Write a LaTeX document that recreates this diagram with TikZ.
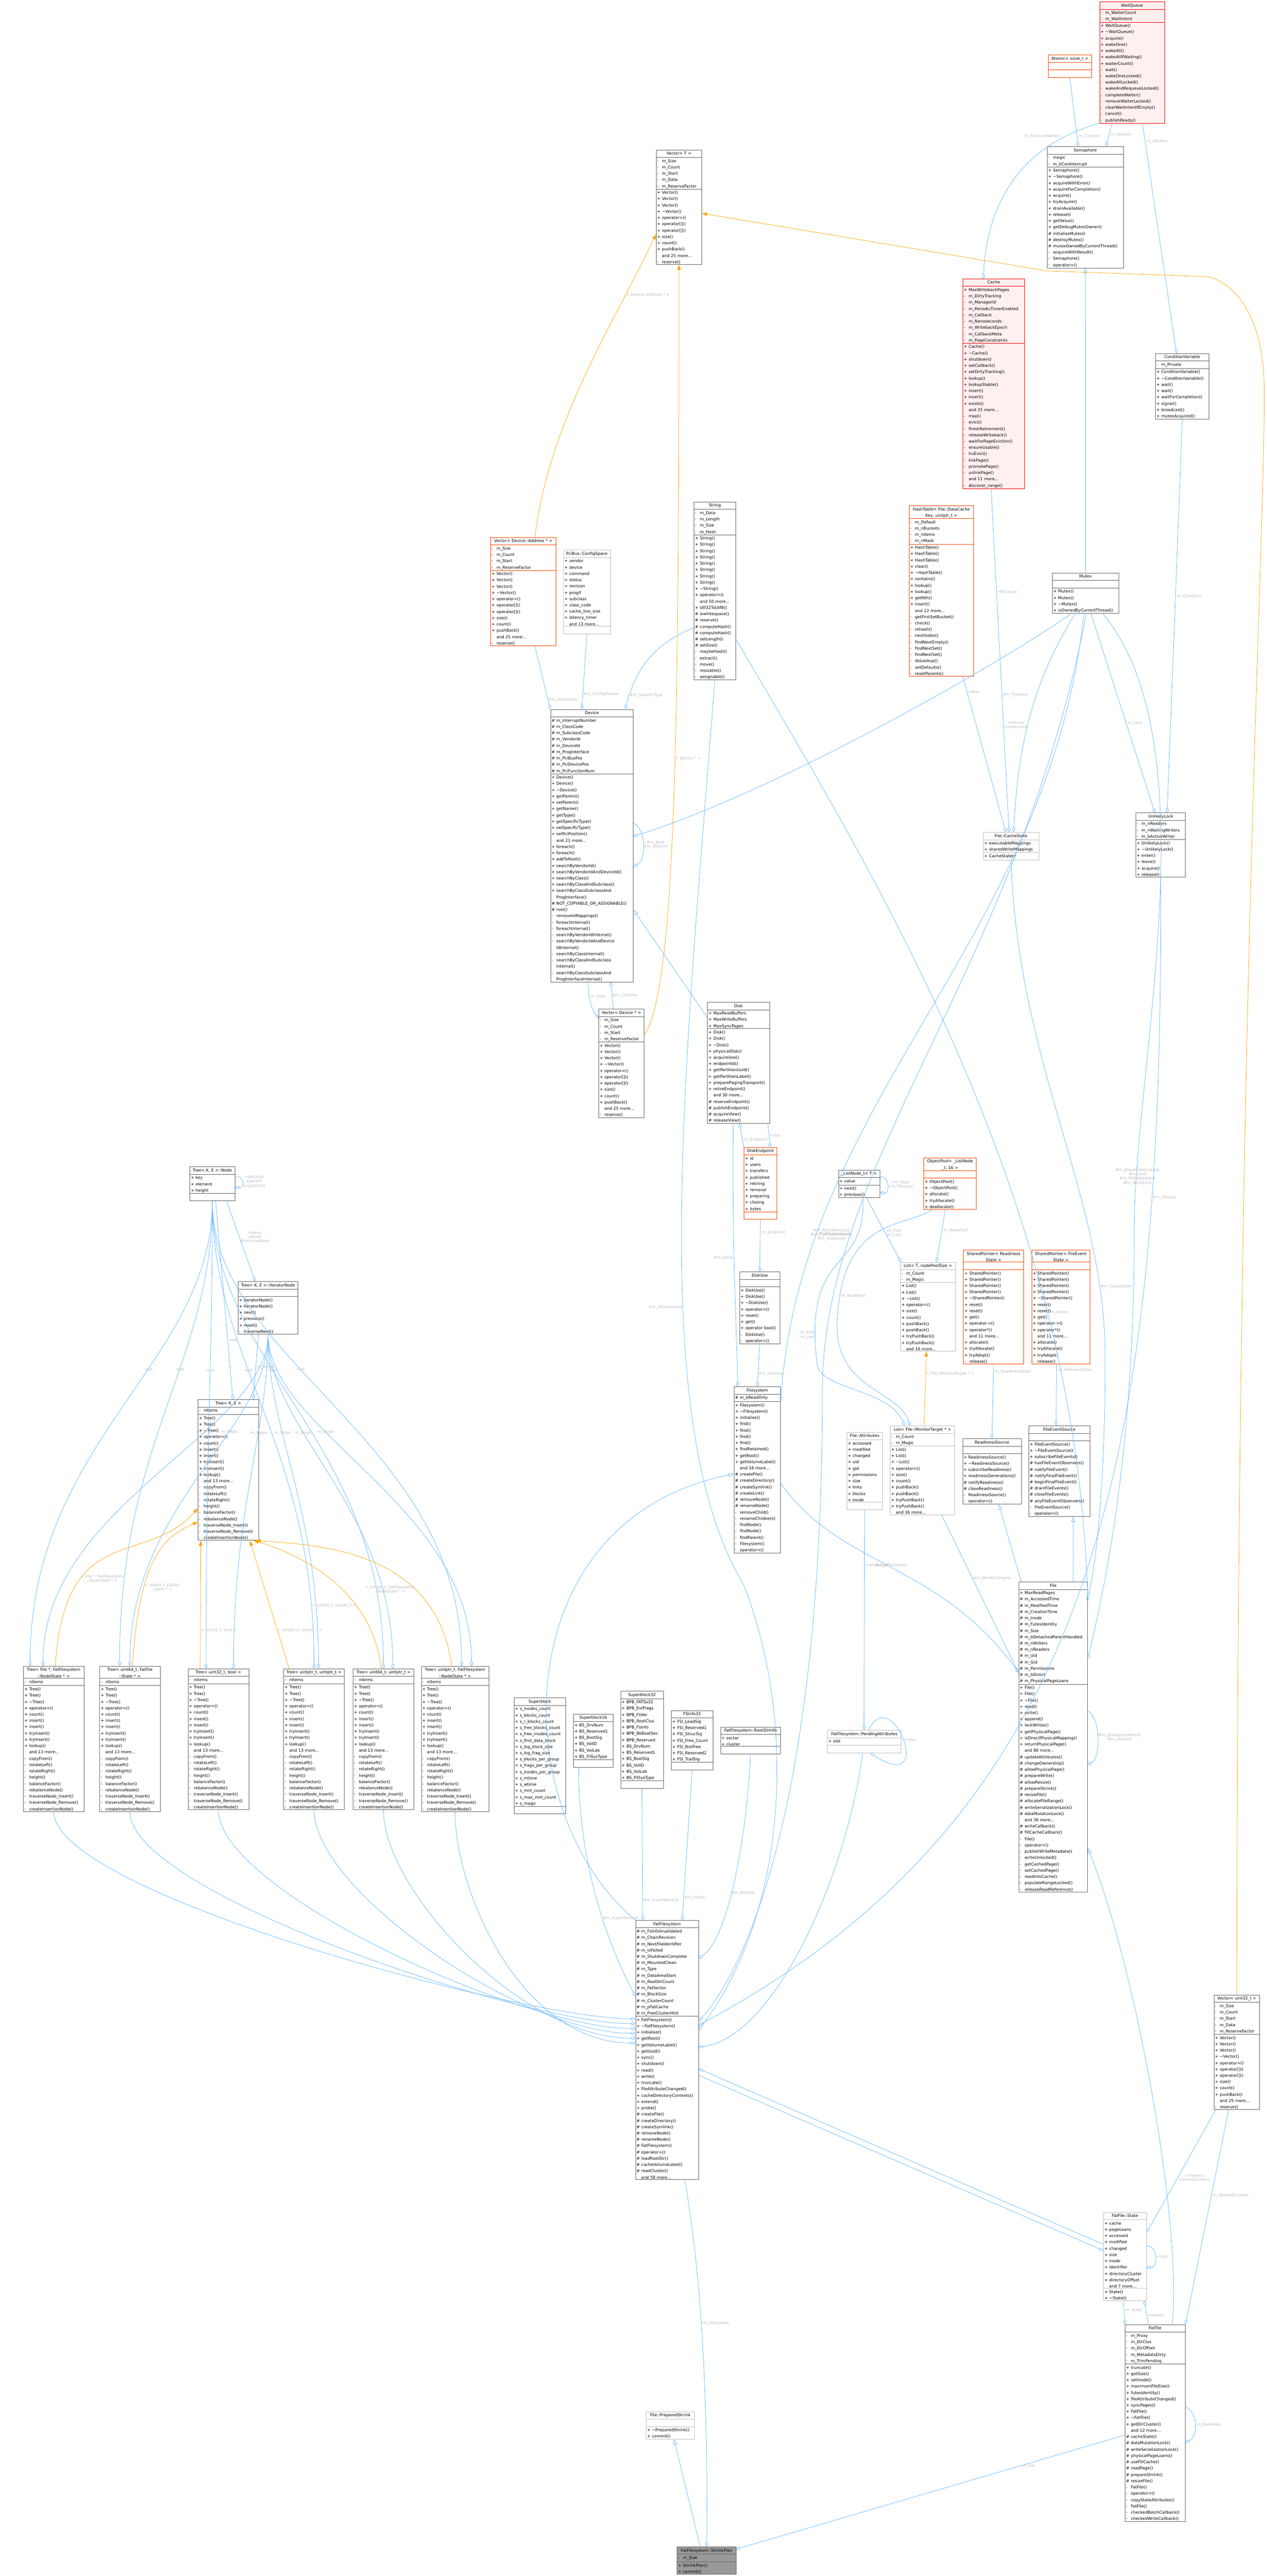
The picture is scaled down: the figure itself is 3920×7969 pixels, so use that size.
\documentclass[tikz,border=0pt]{standalone}
\usepackage{fontspec}
\setmainfont{DejaVu Sans}
\usepackage{tikz}
\usetikzlibrary{arrows.meta,shapes.multipart,calc}
\definecolor{edgeblue}{HTML}{63B8FF}
\definecolor{edgeorange}{HTML}{FFA500}
\definecolor{hotred}{HTML}{FF0000}
\definecolor{hotfill}{HTML}{FFF0F0}
\definecolor{tplred}{HTML}{FF4500}
\definecolor{boxgray}{HTML}{666666}
\definecolor{lightbox}{HTML}{BFBFBF}
\definecolor{focusfill}{HTML}{999999}
\definecolor{lblgray}{HTML}{BBBBBB}
\tikzset{
  umlcls/.style={rectangle split, rectangle split parts=3, draw=boxgray, fill=white,
    line width=1.2pt, anchor=north west, inner xsep=3pt, inner ysep=1.2pt,
    font=\fontsize{12.5}{19.5}\selectfont},
  hotcls/.style={draw=hotred, fill=hotfill},
  tplcls/.style={draw=tplred},
  lightcls/.style={draw=lightbox},
  focuscls/.style={fill=focusfill},
  comp/.style={draw=edgeblue, line width=1.2pt, -{Diamond[open,length=16pt,width=10pt]}},
  inherit/.style={draw=edgeblue, line width=1.2pt, -{Triangle[open,length=16pt,width=12pt]}},
  tmpl/.style={draw=edgeorange, line width=1.2pt, -{Triangle[length=16pt,width=11pt]}},
  elbl/.style={text=lblgray, font=\fontsize{12}{13}\selectfont, align=center, inner sep=1pt}
}
\catcode`\_=12
\newcommand{\mPub}{\makebox[15pt][l]{+}}
\newcommand{\mPri}{\makebox[15pt][l]{-}}
\newcommand{\mPro}{\makebox[15pt][l]{\#}}
\newcommand{\mNo}{\makebox[15pt][l]{}}
\newcommand{\tld}{\textasciitilde}
% one class box: name, style, top left, width, title, fields, methods
\newcommand{\umlbox}[7]{%
  \pgfmathsetmacro\boxtw{#4-6}%
  \node[umlcls,#2,text width=\boxtw pt] (#1) at (#3)
    {\centering\strut #5\par\nodepart{two}\raggedright\strut #6\par\nodepart{three}\raggedright\strut #7\par};}
\newcommand{\treeMeth}{\mPub Tree()\\\mPub Tree()\\\mPub \tld Tree()\\\mPub operator=()\\\mPub count()\\\mPub insert()\\\mPub insert()\\\mPub tryInsert()\\\mPub tryInsert()\\\mPub lookup()\\\mNo and 13 more...\\\mPri copyFrom()\\\mPri rotateLeft()\\\mPri rotateRight()\\\mPri height()\\\mPri balanceFactor()\\\mPri rebalanceNode()\\\mPri traverseNode_Insert()\\\mPri traverseNode_Remove()\\\mPri createInsertionNode()}
\newcommand{\vecMeth}{\mPub Vector()\\\mPub Vector()\\\mPub Vector()\\\mPub \tld Vector()\\\mPub operator=()\\\mPub operator[]()\\\mPub operator[]()\\\mPub size()\\\mPub count()\\\mPub pushBack()\\\mNo and 25 more...\\\mPri reserve()}
\newcommand{\listMeth}{\mPub List()\\\mPub List()\\\mPub \tld List()\\\mPub operator=()\\\mPub size()\\\mPub count()\\\mPub pushBack()\\\mPub pushBack()\\\mPub tryPushBack()\\\mPub tryPushBack()\\\mNo and 16 more...}
\newcommand{\spMeth}{\mPub SharedPointer()\\\mPub SharedPointer()\\\mPub SharedPointer()\\\mPub SharedPointer()\\\mPub \tld SharedPointer()\\\mPub reset()\\\mPub reset()\\\mPub get()\\\mPub operator->()\\\mPub operator*()\\\mNo and 11 more...\\\mPub allocate()\\\mPub tryAllocate()\\\mPub tryAdopt()\\\mPri release()}
\begin{document}
\begin{tikzpicture}[x=1pt,y=-1pt]
  \fill[white] (0,0) rectangle (3920,7969);
  \useasboundingbox (0,0) rectangle (3920,7969);

  % synchronisation
  \umlbox{WaitQ}{hotcls}{3402,5}{201}{WaitQueue}{\mPri m_WaiterCount\\\mPri m_WaitIntent}{\mPub WaitQueue()\\\mPub \tld WaitQueue()\\\mPub acquire()\\\mPub wakeOne()\\\mPub wakeAll()\\\mPub wakeAllIfWaiting()\\\mPub waiterCount()\\\mPri wait()\\\mPri wakeOneLocked()\\\mPri wakeAllLocked()\\\mPri wakeAndRequeueLocked()\\\mPri completeWaiter()\\\mPri removeWaiterLocked()\\\mPri clearWaitIntentIfEmpty()\\\mPri cancel()\\\mPri publishReady()}
  \umlbox{AtomicS}{tplcls}{3243,169}{134}{Atomic< ssize_t >}{}{}
  \umlbox{Sem}{}{3240,453}{236}{Semaphore}{\mPri magic\\\mPri m_bCanInterrupt}{\mPub Semaphore()\\\mPub \tld Semaphore()\\\mPub acquireWithError()\\\mPub acquireForCompletion()\\\mPub acquire()\\\mPub tryAcquire()\\\mPub drainAvailable()\\\mPub release()\\\mPub getValue()\\\mPub getDebugMutexOwner()\\\mPro initialiseMutex()\\\mPro destroyMutex()\\\mPro mutexOwnedByCurrentThread()\\\mPri acquireWithResult()\\\mPri Semaphore()\\\mPri operator=()}
  \umlbox{Cache}{hotcls}{2979,862}{191}{Cache}{\mPub MaxWritebackPages\\\mPri m_DirtyTracking\\\mPri m_ManagerId\\\mPri m_PeriodicTimerEnabled\\\mPri m_Callback\\\mPri m_Nanoseconds\\\mPri m_WritebackEpoch\\\mPri m_CallbackMeta\\\mPri m_PageConstraints}{\mPub Cache()\\\mPub \tld Cache()\\\mPub shutdown()\\\mPub setCallback()\\\mPub setDirtyTracking()\\\mPub lookup()\\\mPub lookupStable()\\\mPub insert()\\\mPub insert()\\\mPub exists()\\\mNo and 25 more...\\\mPri map()\\\mPri evict()\\\mPri finishRetirement()\\\mPri releaseWriteback()\\\mPri waitForPageEviction()\\\mPri ensureUsable()\\\mPri lruEvict()\\\mPri linkPage()\\\mPri promotePage()\\\mPri unlinkPage()\\\mNo and 11 more...\\\mPri discover_range()}
  \umlbox{CondVar}{}{3575,1093}{166}{ConditionVariable}{\mPri m_Private}{\mPub ConditionVariable()\\\mPub \tld ConditionVariable()\\\mPub wait()\\\mPub wait()\\\mPub waitForCompletion()\\\mPub signal()\\\mPub broadcast()\\\mPub mutexAcquired()}
  \umlbox{Mutex}{}{3256,1772}{205}{Mutex}{}{\mPub Mutex()\\\mPub Mutex()\\\mPub \tld Mutex()\\\mPub isOwnedByCurrentThread()}
  \umlbox{ULock}{}{3514,2514}{154}{UnlikelyLock}{\mPri m_nReaders\\\mPri m_nWaitingWriters\\\mPri m_bActiveWriter}{\mPub UnlikelyLock()\\\mPub \tld UnlikelyLock()\\\mPub enter()\\\mPub leave()\\\mPub acquire()\\\mPub release()}
  \umlbox{HashT}{tplcls}{2813,1564}{199}{HashTable< File::DataCache\\Key, uintptr_t >}{\mPri m_Default\\\mPri m_nBuckets\\\mPri m_nItems\\\mPri m_nMask}{\mPub HashTable()\\\mPub HashTable()\\\mPub HashTable()\\\mPub clear()\\\mPub \tld HashTable()\\\mPub contains()\\\mPub lookup()\\\mPub lookup()\\\mPub getNth()\\\mPub insert()\\\mNo and 12 more...\\\mPri getFirstSetBucket()\\\mPri check()\\\mPri rehash()\\\mPri nextIndex()\\\mPri findNextEmpty()\\\mPri findNextSet()\\\mPri findNextSet()\\\mPri doLookup()\\\mPri setDefaults()\\\mPri resetParents()}
  \umlbox{CacheSt}{lightcls}{3042,2574}{172}{File::CacheState}{\mPub executableMappings\\\mPub sharedWriteMappings}{\mPub CacheState()}

  % containers and devices
  \umlbox{VecT}{}{2030,463}{141}{Vector< T >}{\mPri m_Size\\\mPri m_Count\\\mPri m_Start\\\mPri m_Data\\\mPri m_ReserveFactor}{\vecMeth}
  \umlbox{VecAddr}{tplcls}{1518,1662}{201}{Vector< Device::Address * >}{\mPri m_Size\\\mPri m_Count\\\mPri m_Start\\\mPri m_ReserveFactor}{\vecMeth}
  \umlbox{CfgSpace}{lightcls}{1743,1701}{145}{PciBus::ConfigSpace}{\mPub vendor\\\mPub device\\\mPub command\\\mPub status\\\mPub revision\\\mPub progif\\\mPub subclass\\\mPub class_code\\\mPub cache_line_size\\\mPub latency_timer\\\mNo and 13 more...}{}
  \umlbox{Str}{}{2147,1552}{129}{String}{\mPri m_Data\\\mPri m_Length\\\mPri m_Size\\\mPri m_Hash}{\mPub String()\\\mPub String()\\\mPub String()\\\mPub String()\\\mPub String()\\\mPub String()\\\mPub String()\\\mPub String()\\\mPub \tld String()\\\mPub operator=()\\\mNo and 50 more...\\\mPub Utf32ToUtf8()\\\mPro iswhitespace()\\\mPro reserve()\\\mPro computeHash()\\\mPro computeHash()\\\mPro setLength()\\\mPro setSize()\\\mPri maybeHash()\\\mPri extract()\\\mPri move()\\\mPri resizable()\\\mPri assignable()}
  \umlbox{Dev}{}{1703,2194}{256}{Device}{\mPro m_InterruptNumber\\\mPro m_ClassCode\\\mPro m_SubclassCode\\\mPro m_VendorId\\\mPro m_DeviceId\\\mPro m_ProgInterface\\\mPro m_PciBusPos\\\mPro m_PciDevicePos\\\mPro m_PciFunctionNum}{\mPub Device()\\\mPub Device()\\\mPub \tld Device()\\\mPub getParent()\\\mPub setParent()\\\mPub getName()\\\mPub getType()\\\mPub getSpecificType()\\\mPub setSpecificType()\\\mPub setPciPosition()\\\mNo and 21 more...\\\mPub foreach()\\\mPub foreach()\\\mPub addToRoot()\\\mPub searchByVendorId()\\\mPub searchByVendorIdAndDeviceId()\\\mPub searchByClass()\\\mPub searchByClassAndSubclass()\\\mPub searchByClassSubclassAnd\\\mNo ProgInterface()\\\mPro NOT_COPYABLE_OR_ASSIGNABLE()\\\mPro root()\\\mPri removeIoMappings()\\\mPri foreachInternal()\\\mPri foreachInternal()\\\mPri searchByVendorIdInternal()\\\mPri searchByVendorIdAndDevice\\\mNo IdInternal()\\\mPri searchByClassInternal()\\\mPri searchByClassAndSubclass\\\mNo Internal()\\\mPri searchByClassSubclassAnd\\\mNo ProgInterfaceInternal()}
  \umlbox{VecDev}{}{1852,3121}{141}{Vector< Device * >}{\mPri m_Size\\\mPri m_Count\\\mPri m_Start\\\mPri m_ReserveFactor}{\vecMeth}
  \umlbox{Disk}{}{2189,3100}{192}{Disk}{\mPub MaxReadBuffers\\\mPub MaxWriteBuffers\\\mPub MaxSyncPages}{\mPub Disk()\\\mPub Disk()\\\mPub \tld Disk()\\\mPub physicalDisk()\\\mPub acquireUse()\\\mPub endpointId()\\\mPub getPartitionUuid()\\\mPub getPartitionLabel()\\\mPub preparePagingTransport()\\\mPub retireEndpoint()\\\mNo and 30 more...\\\mPro reserveEndpoint()\\\mPro publishEndpoint()\\\mPro acquireView()\\\mPro releaseView()}
  \umlbox{DiskEp}{tplcls}{2302,3549}{101}{DiskEndpoint}{\mPub id\\\mPub users\\\mPub transfers\\\mPub published\\\mPub retiring\\\mPub removal\\\mPub preparing\\\mPub closing\\\mPub bytes}{}
  \umlbox{DiskUse}{}{2288,3934}{125}{DiskUse}{}{\mPub DiskUse()\\\mPub DiskUse()\\\mPub \tld DiskUse()\\\mPub operator=()\\\mPub reset()\\\mPub get()\\\mPub operator bool()\\\mPri DiskUse()\\\mPri operator=()}
  \umlbox{Fs}{}{2271,4289}{144}{Filesystem}{\mPro m_bReadOnly}{\mPub Filesystem()\\\mPub \tld Filesystem()\\\mPub initialise()\\\mPub find()\\\mPub find()\\\mPub find()\\\mPub find()\\\mPub findRetained()\\\mPub getRoot()\\\mPub getVolumeLabel()\\\mNo and 18 more...\\\mPro createFile()\\\mPro createDirectory()\\\mPro createSymlink()\\\mPro createLink()\\\mPro removeNode()\\\mPro renameNode()\\\mPri removeChild()\\\mPri renameChildren()\\\mPri findNode()\\\mPri findNode()\\\mPri findParent()\\\mPri Filesystem()\\\mPri operator=()}

  % lists and file
  \umlbox{LNode}{}{2594,3619}{128}{_ListNode_t< T >}{\mPub value}{\mPub next()\\\mPub previous()}
  \umlbox{OPool}{tplcls}{2858,3581}{163}{ObjectPool< _ListNode\\_t, 16 >}{}{\mPub ObjectPool()\\\mPub \tld ObjectPool()\\\mPub allocate()\\\mPub tryAllocate()\\\mPub deallocate()}
  \umlbox{ListT}{lightcls}{2786,3904}{170}{List< T, nodePoolSize >}{\mPri m_Count\\\mPri m_Magic}{\listMeth}
  \umlbox{SPReady}{tplcls}{2981,3867}{186}{SharedPointer< Readiness\\State >}{}{\spMeth}
  \umlbox{SPEvent}{tplcls}{3192,3867}{180}{SharedPointer< FileEvent\\State >}{}{\spMeth}
  \umlbox{ListMon}{lightcls}{2754,4410}{200}{List< File::MonitorTarget * >}{\mPri m_Count\\\mPri m_Magic}{\listMeth}
  \umlbox{FAttr}{lightcls}{2620,4430}{110}{File::Attributes}{\mPub accessed\\\mPub modified\\\mPub changed\\\mPub uid\\\mPub gid\\\mPub permissions\\\mPub size\\\mPub links\\\mPub blocks\\\mPub inode}{}
  \umlbox{RdySrc}{}{2978,4450}{182}{ReadinessSource}{}{\mPub ReadinessSource()\\\mPub \tld ReadinessSource()\\\mPub subscribeReadiness()\\\mPub readinessGenerations()\\\mPro notifyReadiness()\\\mPro closeReadiness()\\\mPri ReadinessSource()\\\mPri operator=()}
  \umlbox{EvtSrc}{}{3183,4410}{189}{FileEventSource}{}{\mPub FileEventSource()\\\mPub \tld FileEventSource()\\\mPub subscribeFileEvents()\\\mPro hasFileEventObservers()\\\mPro notifyFileEvent()\\\mPro notifyFinalFileEvent()\\\mPro beginFinalFileEvent()\\\mPro drainFileEvents()\\\mPro closeFileEvents()\\\mPro anyFileEventObservers()\\\mPri FileEventSource()\\\mPri operator=()}
  \umlbox{File}{}{3152,4893}{213}{File}{\mPub MaxReadPages\\\mPro m_AccessedTime\\\mPro m_ModifiedTime\\\mPro m_CreationTime\\\mPro m_Inode\\\mPro m_FutexIdentity\\\mPro m_Size\\\mPro m_bDetachedParentHandled\\\mPro m_nWriters\\\mPro m_nReaders\\\mPro m_Uid\\\mPro m_Gid\\\mPro m_Permissions\\\mPro m_bDirect\\\mPro m_PhysicalPageLoans}{\mPub File()\\\mPub File()\\\mPub \tld File()\\\mPub read()\\\mPub write()\\\mPub append()\\\mPub lockWrites()\\\mPub getPhysicalPage()\\\mPub isDirectPhysicalMapping()\\\mPub returnPhysicalPage()\\\mNo and 80 more...\\\mPro updateAttributes()\\\mPro changeOwnership()\\\mPro allowPhysicalPage()\\\mPro prepareWrite()\\\mPro allowResize()\\\mPro prepareShrink()\\\mPro resizeFile()\\\mPro allocateFileRange()\\\mPro writeSerializationLock()\\\mPro dataMutationLock()\\\mNo and 30 more...\\\mPro writeCallback()\\\mPro fillCacheCallback()\\\mPri File()\\\mPri operator=()\\\mPri publishWriteMetadata()\\\mPri writeUnlocked()\\\mPri getCachedPage()\\\mPri setCachedPage()\\\mPri readIntoCache()\\\mPri populateRangeLocked()\\\mPri releaseReadReference()}
  \umlbox{Vec32}{}{3756,6171}{141}{Vector< uint32_t >}{\mPri m_Size\\\mPri m_Count\\\mPri m_Start\\\mPri m_Data\\\mPri m_ReserveFactor}{\vecMeth}
  \umlbox{FState}{lightcls}{3414,6843}{133}{FatFile::State}{\mPub cache\\\mPub pageLoans\\\mPub accessed\\\mPub modified\\\mPub changed\\\mPub size\\\mPub inode\\\mPub identifier\\\mPub directoryCluster\\\mPub directoryOffset\\\mNo and 7 more...}{\mPub State()\\\mPub \tld State()}
  \umlbox{FatF}{}{3481,7191}{186}{FatFile}{\mPri m_Proxy\\\mPri m_DirClus\\\mPri m_DirOffset\\\mPri m_MetadataDirty\\\mPri m_TrimPending}{\mPub truncate()\\\mPub getSize()\\\mPub setInode()\\\mPub maximumFileSize()\\\mPub futexIdentity()\\\mPub fileAttributeChanged()\\\mPub syncPages()\\\mPub FatFile()\\\mPub \tld FatFile()\\\mPub getDirCluster()\\\mNo and 12 more...\\\mPro cacheState()\\\mPro dataMutationLock()\\\mPro writeSerializationLock()\\\mPro physicalPageLoans()\\\mPro useFillCache()\\\mPro readPage()\\\mPro prepareShrink()\\\mPro resizeFile()\\\mPri FatFile()\\\mPri operator=()\\\mPri copyStateAttributes()\\\mPri FatFile()\\\mPri checkedBatchCallback()\\\mPri checkedWriteCallback()}

  % trees
  \umlbox{TNode}{}{587,3609}{139}{Tree< K, E >::Node}{\mPub key\\\mPub element\\\mPub height}{}
  \umlbox{TIter}{}{736,3964}{186}{Tree< K, E >::IteratorNode}{}{\mPub IteratorNode()\\\mPub IteratorNode()\\\mPub next()\\\mPub previous()\\\mPub reset()\\\mPri traverseNext()}
  \umlbox{TreeKE}{}{612,4329}{188}{Tree< K, E >}{\mPri nItems}{\treeMeth}
  \umlbox{TFile}{}{72,5154}{187}{Tree< File *, FatFilesystem\\::NodeState * >}{\mPri nItems}{\treeMeth}
  \umlbox{TU64S}{}{308,5154}{187}{Tree< uint64_t, FatFile\\::State * >}{\mPri nItems}{\treeMeth}
  \umlbox{TU32B}{}{581,5162}{188}{Tree< uint32_t, bool >}{\mPri nItems}{\treeMeth}
  \umlbox{TPP}{}{877,5162}{188}{Tree< uintptr_t, uintptr_t >}{\mPri nItems}{\treeMeth}
  \umlbox{TU64P}{}{1092,5162}{188}{Tree< uint64_t, uintptr_t >}{\mPri nItems}{\treeMeth}
  \umlbox{TPN}{}{1303,5154}{209}{Tree< uintptr_t, FatFilesystem\\::NodeState * >}{\mPri nItems}{\treeMeth}

  % fat filesystem
  \umlbox{SBlk}{}{1590,5252}{160}{Superblock}{\mPub s_inodes_count\\\mPub s_blocks_count\\\mPub s_r_blocks_count\\\mPub s_free_blocks_count\\\mPub s_free_inodes_count\\\mPub s_first_data_block\\\mPub s_log_block_size\\\mPub s_log_frag_size\\\mPub s_blocks_per_group\\\mPub s_frags_per_group\\\mPub s_inodes_per_group\\\mPub s_mtime\\\mPub s_wtime\\\mPub s_mnt_count\\\mPub s_max_mnt_count\\\mPub s_magic}{}
  \umlbox{SB16}{}{1774,5302}{122}{Superblock16}{\mPub BS_DrvNum\\\mPub BS_Reserved1\\\mPub BS_BootSig\\\mPub BS_VolID\\\mPub BS_VolLab\\\mPub BS_FilSysType}{}
  \umlbox{SB32}{}{1920,5231}{132}{Superblock32}{\mPub BPB_FATSz32\\\mPub BPB_ExtFlags\\\mPub BPB_FsVer\\\mPub BPB_RootClus\\\mPub BPB_FsInfo\\\mPub BPB_BkBootSec\\\mPub BPB_Reserved\\\mPub BS_DrvNum\\\mPub BS_Reserved1\\\mPub BS_BootSig\\\mPub BS_VolID\\\mPub BS_VolLab\\\mPub BS_FilSysType}{}
  \umlbox{FSI}{}{2077,5291}{128}{FSInfo32}{\mPub FSI_LeadSig\\\mPub FSI_Reserved1\\\mPub FSI_StrucSig\\\mPub FSI_Free_Count\\\mPub FSI_NxtFree\\\mPub FSI_Reserved2\\\mPub FSI_TrailSig}{}
  \umlbox{RootDir}{}{2229,5342}{186}{FatFilesystem::RootDirInfo}{\mPub sector\\\mPub cluster}{}
  \umlbox{PendAttr}{lightcls}{2560,5352}{228}{FatFilesystem::PendingAttributes}{\mPub slot}{}
  \umlbox{FatFs}{}{1966,5940}{195}{FatFilesystem}{\mPro m_FsInfoInvalidated\\\mPro m_ChainRevision\\\mPro m_NextFileIdentifier\\\mPro m_IoFailed\\\mPro m_ShutdownComplete\\\mPro m_MountedClean\\\mPro m_Type\\\mPro m_DataAreaStart\\\mPro m_RootDirCount\\\mPro m_FatSector\\\mPro m_BlockSize\\\mPro m_ClusterCount\\\mPro m_pFatCache\\\mPro m_FreeClusterHint}{\mPub FatFilesystem()\\\mPub \tld FatFilesystem()\\\mPub initialise()\\\mPub getRoot()\\\mPub getVolumeLabel()\\\mPub getUuid()\\\mPub sync()\\\mPub shutdown()\\\mPub read()\\\mPub write()\\\mPub truncate()\\\mPub fileAttributeChanged()\\\mPub cacheDirectoryContents()\\\mPub extend()\\\mPub probe()\\\mPro createFile()\\\mPro createDirectory()\\\mPro createSymlink()\\\mPro removeNode()\\\mPro renameNode()\\\mPro FatFilesystem()\\\mPro operator=()\\\mPro loadRootDir()\\\mPro cacheVolumeLabel()\\\mPro readCluster()\\\mNo and 58 more...}
  \umlbox{PShrink}{lightcls}{1999,7460}{150}{File::PreparedShrink}{}{\mPub \tld PreparedShrink()\\\mPub commit()}
  \umlbox{SPlan}{focuscls}{2095,7878}{182}{FatFilesystem::ShrinkPlan}{\mPri m_Size}{\mPub ShrinkPlan()\\\mPub commit()}

  % sync connectors
  \draw[comp] (AtomicS.south) -- node[elbl,pos=0.85,right]{-m_Counter} ([xshift=-22pt]Sem.north);
  \draw[comp] ([xshift=-62pt]WaitQ.south) -- node[elbl,pos=0.5,right]{-m_Waiters} ([xshift=64pt]Sem.north);
  \draw[comp] ([xshift=32pt]WaitQ.south) -- node[elbl,pos=0.08,right]{-m_Waiters} ([xshift=-18pt]CondVar.north);
  \draw[comp] (WaitQ.south west) .. controls (3300,410) and (3060,500) .. node[elbl,pos=0.3,above left]{-m_EvictionWaiters} ([xshift=-32pt]Cache.north);
  \draw[inherit] (Mutex.north) -- (Sem.south);
  \draw[comp] ([xshift=120pt]Mutex.south west) -- node[elbl,pos=0.55,right]{-m_Lock} ([xshift=-18pt]ULock.north);
  \draw[comp] (CondVar.south) -- node[elbl,pos=0.45,right]{-m_Condition} ([xshift=20pt]ULock.north);
  \draw[comp] ([xshift=-8pt]Cache.south) -- node[elbl,pos=0.3,right]{+fillCache} node[elbl,pos=0.6,right]{\#m_TreeLock} ([xshift=-6pt]CacheSt.north);
  \draw[comp] ([xshift=66pt]HashT.south) -- node[elbl,pos=0.1,right]{+data} ([xshift=-16pt]CacheSt.north);
  \draw[comp] ([xshift=72pt]Mutex.south west) .. controls (3200,2100) and (3150,2300) .. node[elbl,pos=0.55,left]{+fillLock\\+indexLock} ([xshift=8pt]CacheSt.north);
  \draw[comp] ([xshift=60pt]Mutex.south west) .. controls (3100,2050) and (2400,2450) .. ([yshift=-393pt]Dev.north east);
  \draw[comp] ([xshift=98pt]Mutex.south west) .. controls (3250,2900) and (2480,3400) .. node[elbl,pos=0.8,right]{-m_StructureLock} ([yshift=-44pt]Fs.north east);
  \draw[comp] ([xshift=106pt]Mutex.south west) .. controls (3150,3000) and (2545,3600) .. (2545,4300) .. controls (2545,5600) and (2300,6100) .. ([yshift=-312pt]FatFs.north east);
  \node[elbl] (lblAlloc) at (2573,3820) {\#m_AllocationLock\\\#m_FileMutationLock\\\#m_StateLock};
  \draw[comp] ([xshift=156pt]Mutex.south west) .. controls (3750,2300) and (3510,3300) .. (3510,3800) .. controls (3510,4500) and (3420,4900) .. ([yshift=-240pt]File.north east);
  \node[elbl] (lblData) at (3520,3640) {\#m_DataMutationLock\\\#m_Lock\\\#m_MetadataLock\\\#m_WriteLock};
  \draw[comp] (ULock.south) .. controls (3600,4500) and (3400,5600) .. node[elbl,pos=0.2,right]{\#m_FatLock} ([yshift=-325pt]FatFs.north east);

  % vectors
  \draw[tmpl] ([xshift=36pt]VecAddr.north) .. controls (1700,1300) and (1900,1000) .. node[elbl,pos=0.78,right]{< Device::Address * >} ([yshift=-262pt]VecT.north west);
  \draw[tmpl] ([yshift=-80pt]VecDev.north east) .. controls (2095,3050) and (2100,2200) .. node[elbl,pos=0.55,right]{< Device * >} (VecT.south);
  \draw[tmpl] (Vec32.north) .. controls (3830,3000) and (3915,1700) .. (3912,1200) .. controls (3910,950) and (3800,870) .. (3740,856) -- (3240,838) -- ([yshift=-197pt]VecT.north east);

  % device
  \draw[comp] ([xshift=36pt]VecAddr.south) -- node[elbl,pos=0.85,right]{\#m_Addresses} (Dev.north west);
  \draw[comp] (CfgSpace.south) -- node[elbl,pos=0.8,right]{\#m_ConfigHeader} ([xshift=-31pt]Dev.north);
  \draw[comp] ([yshift=-390pt]Str.north west) .. controls (2000,2000) and (1960,2100) .. node[elbl,pos=0.85,right]{\#m_SpecificType} ([xshift=103pt]Dev.north);
  \draw[comp] ([yshift=-352pt]Dev.north east) .. controls +(40,20) and +(40,-20) .. node[elbl,pos=0.5,right]{\#m_Root\\\#m_pParent} ([yshift=-486pt]Dev.north east);
  \draw[comp] ([xshift=117pt]Dev.south west) .. controls +(0,60) and +(-20,-30) .. node[elbl,pos=0.3,right]{-m_Data} ([yshift=-30pt]VecDev.north west);
  \draw[comp] ([xshift=-25pt]VecDev.north) -- node[elbl,pos=0.5,right]{\#m_Children} ([xshift=187pt]Dev.south west);
  \draw[inherit] ([yshift=-48pt]Disk.north west) -- ([yshift=-621pt]Dev.north east);
  \draw[comp] (DiskEp.north west) -- node[elbl,pos=0.3,right]{-m_Endpoint} ([xshift=99pt]Disk.south west);
  \draw[comp] ([xshift=187pt]Disk.south west) -- node[elbl,pos=0.5,right]{+disk} ([xshift=81pt]DiskEp.north west);
  \draw[comp] (DiskEp.south) -- node[elbl,pos=0.25,right]{-m_Endpoint} (DiskUse.north);
  \draw[comp] (DiskUse.south) -- node[elbl,pos=0.7,right]{\#m_DiskUse} (Fs.north);
  \draw[comp] ([xshift=80pt]Disk.south west) .. controls (2265,3900) and (2280,4100) .. node[elbl,pos=0.4,left]{\#m_pDisk} ([xshift=-61pt]Fs.north);
  \draw[comp] (Str.south) .. controls (2120,3300) and (2000,4400) .. node[elbl,pos=0.6,left]{\#m_VolumeLabel} (2300,4900) .. controls (2460,5300) and (2450,5900) .. ([yshift=-340pt]FatFs.north east);
  \draw[comp] ([yshift=-425pt]Str.north east) .. controls (2700,2700) and (3330,3700) .. node[elbl,pos=0.75,right]{\#m_Name} ([yshift=-60pt]File.north east);

  % file
  \draw[comp] (CacheSt.south) .. controls (3150,3300) and (3420,3700) .. node[elbl,pos=0.85,right]{\#m_CacheState} (3420,4200) .. controls (3420,4600) and (3390,4850) .. ([yshift=-45pt]File.north east);
  \draw[comp] ([yshift=-300pt]Fs.north east) .. controls (2600,4850) and (2900,4830) .. node[elbl,pos=0.5,above]{\#m_pFilesystem} ([yshift=-280pt]File.north west);
  \draw[comp] ([xshift=59pt]ListMon.south) -- node[elbl,pos=0.4,right]{\#m_MonitorTargets} ([yshift=-282pt]File.north west);
  \draw[comp] (FAttr.south) -- node[elbl,pos=0.25,right]{+attributes} ([xshift=-1pt]PendAttr.north);
  \draw[comp] ([xshift=13pt]PendAttr.north) .. controls (2760,5200) and (2900,5560) .. node[elbl,pos=0.5,right]{+next} ([xshift=18pt]PendAttr.south);
  \draw[comp] ([xshift=-5pt]PendAttr.south) .. controls (2620,5800) and (2400,6300) .. ([yshift=-393pt]FatFs.north east);
  \draw[comp] ([yshift=-400pt]File.north east) .. controls +(40,20) and +(40,-20) .. node[elbl,pos=0.5,right]{\#m_pDetachedParent\\\#m_pParent} ([yshift=-565pt]File.north east);
  \draw[inherit] ([xshift=8pt]File.north west) -- ([xshift=21pt]RdySrc.south);
  \draw[inherit] ([xshift=169pt]File.north west) -- ([xshift=43pt]EvtSrc.south);
  \draw[comp] (SPReady.south) -- node[elbl,pos=0.1,right]{-m_ReadinessState} (RdySrc.north);
  \draw[comp] ([xshift=-13pt]SPEvent.south) -- node[elbl,pos=0.1,right]{-m_FileEventState} ([xshift=-10pt]EvtSrc.north);
  \draw[comp] ([yshift=-22pt]LNode.north east) .. controls +(30,-5) and +(30,5) .. node[elbl,pos=0.5,right]{+m_Next\\+m_Previous} ([yshift=-70pt]LNode.north east);
  \draw[comp] ([xshift=87pt]LNode.south west) -- node[elbl,pos=0.55,right]{-m_First\\-m_Last} ([xshift=2pt]ListT.north west);
  \draw[comp] ([xshift=-15pt]OPool.south) -- node[elbl,pos=0.4,right]{-m_NodePool} ([xshift=112pt]ListT.north west);
  \draw[comp] ([xshift=12pt]LNode.south) .. controls (2680,3950) and (2480,3850) .. node[elbl,pos=0.9,left]{-m_First\\-m_Last} (2530,4230) .. controls (2560,4300) and (2750,4300) .. ([xshift=46pt]ListMon.north west);
  \draw[comp] ([xshift=-55pt]OPool.south) .. controls (2800,3800) and (2600,3760) .. node[elbl,pos=0.9,right]{-m_NodePool} (2590,4100) .. controls (2590,4300) and (2780,4300) .. ([xshift=62pt]ListMon.north west);
  \draw[tmpl] ([xshift=5pt]ListMon.north) -- node[elbl,pos=0.7,right]{< File::MonitorTarget * >} ([xshift=-5pt]ListT.south);

  % fat connectors
  \draw[inherit] (FatFs.north west) .. controls (1560,5600) and (1560,4700) .. ([yshift=-271pt]Fs.north west);
  \draw[comp] (RootDir.south) .. controls (2310,5700) and (2250,6000) .. node[elbl,pos=0.55,right]{\#m_RootDir} ([yshift=-118pt]FatFs.north east);
  \draw[comp] ([xshift=-45pt]SB16.south) .. controls (1790,5800) and (1900,6050) .. node[elbl,pos=0.55,right]{\#m_Superblock16} ([yshift=-235pt]FatFs.north west);
  \draw[comp] (SB32.south) -- node[elbl,pos=0.85,right]{\#m_Superblock32} ([xshift=-75pt]FatFs.north);
  \draw[comp] (FSI.south) -- node[elbl,pos=0.85,right]{\#m_FsInfo} ([xshift=47pt]FatFs.north);
  \draw[comp] ([yshift=-480pt]FatFs.north east) -- ([yshift=-119pt]FState.north west);
  \draw[comp] ([yshift=-100pt]FState.north west) -- ([yshift=-460pt]FatFs.north east);
  \draw[comp] ([xshift=-65pt]Vec32.south) -- node[elbl,pos=0.55,right]{+clusters\\+retiredClusters} ([yshift=-64pt]FState.north east);
  \draw[comp] ([xshift=-25pt]Vec32.south) -- node[elbl,pos=0.4,right]{-m_RetiredClusters} (FatF.north east);
  \draw[comp] ([yshift=-105pt]FState.north east) .. controls +(35,-5) and +(35,5) .. node[elbl,pos=0.5,right]{+next} ([yshift=-170pt]FState.north east);
  \draw[comp] ([xshift=-5pt]FState.south) -- node[elbl,pos=0.4,right]{-m_State} (FatF.north west);
  \draw[comp] ([xshift=72pt]FatF.north west) -- node[elbl,pos=0.4,right]{+aliases} ([xshift=60pt]FState.south);
  \draw[comp] ([yshift=-254pt]FatF.north east) .. controls +(40,20) and +(40,-20) .. node[elbl,pos=0.5,right]{-m_NextAlias} ([yshift=-365pt]FatF.north east);
  \draw[inherit] ([xshift=146pt]FatF.north west) .. controls (3660,6900) and (3520,6100) .. ([yshift=-824pt]File.north east);
  \draw[comp] ([yshift=-342pt]FatF.north west) -- node[elbl,pos=0.25,below]{-m_File} ([yshift=-8pt]SPlan.north east);
  \draw[comp] ([xshift=55pt]FatFs.south) .. controls (2180,7100) and (2190,7500) .. node[elbl,pos=0.4,right]{-m_Filesystem} (SPlan.north);
  \draw[inherit] ([xshift=-20pt]SPlan.north) -- ([xshift=11pt]PShrink.south);

  % tree connectors
  \draw[comp] ([yshift=-31pt]TNode.north east) .. controls +(30,-5) and +(30,5) .. node[elbl,pos=0.5,right]{+leftChild\\+parent\\+rightChild} ([yshift=-63pt]TNode.north east);
  \draw[comp] ([xshift=44pt]TNode.south) -- node[elbl,pos=0.45,right]{+value\\-pNode\\pPreviousNode} ([xshift=-40pt]TIter.north);
  \draw[comp] ([xshift=10pt]TNode.south) -- node[elbl,pos=0.7,right]{-root} ([xshift=14pt]TreeKE.north);
  \draw[comp] ([xshift=-30pt]TIter.south) -- node[elbl,pos=0.5,right]{-m_Begin} ([xshift=77pt]TreeKE.north);
  \foreach \tr/\rx/\bx in {TFile/-73/-33, TU64S/-32/0, TU32B/-38/47, TPP/0/14, TU64P/0/29, TPN/20/51} {
    \draw[comp] (TNode.south) .. controls +(0,500) and +(0,-700) .. node[elbl,pos=0.4]{-root} ([xshift=\rx pt]\tr.north);
    \draw[comp] (TIter.south) .. controls +(0,300) and +(0,-500) .. node[elbl,pos=0.35]{-m_Begin} ([xshift=\bx pt]\tr.north);
  }
  \draw[tmpl] ([xshift=5pt]TFile.north) .. controls (200,4700) and (450,4850) .. node[elbl,pos=0.3,right]{< File *, FatFilesystem\\::NodeState * >} ([yshift=-337pt]TreeKE.north west);
  \draw[tmpl] ([xshift=8pt]TU64S.north) .. controls (430,4800) and (520,4750) .. node[elbl,pos=0.3,right]{< uint64_t, FatFile\\::State * >} ([yshift=-379pt]TreeKE.north west);
  \draw[tmpl] ([xshift=-56pt]TU32B.north) -- node[elbl,pos=0.3,right]{< uint32_t, bool >} ([xshift=9pt]TreeKE.south west);
  \draw[tmpl] ([xshift=-77pt]TPP.north) -- node[elbl,pos=0.3,right]{< uintptr_t, uintptr_t >} ([xshift=-28pt]TreeKE.south east);
  \draw[tmpl] ([xshift=-7pt]TU64P.north) .. controls (1150,4900) and (900,4800) .. node[elbl,pos=0.3,left]{< uint64_t, uintptr_t >} ([xshift=-16pt]TreeKE.south east);
  \draw[tmpl] ([xshift=-10pt]TPN.north) .. controls (1350,4800) and (1000,4780) .. node[elbl,pos=0.3,left]{< uintptr_t, FatFilesystem\\::NodeState * >} ([xshift=-10pt]TreeKE.south east);
  \foreach \tr/\dy in {TFile/-305, TU64S/-320, TU32B/-335, TPP/-350, TU64P/-365, TPN/-380} {
    \draw[comp] (\tr.south) .. controls +(0,250) and +(-350,0) .. ([yshift=\dy pt]FatFs.north west);
  }
\end{tikzpicture}
\end{document}
